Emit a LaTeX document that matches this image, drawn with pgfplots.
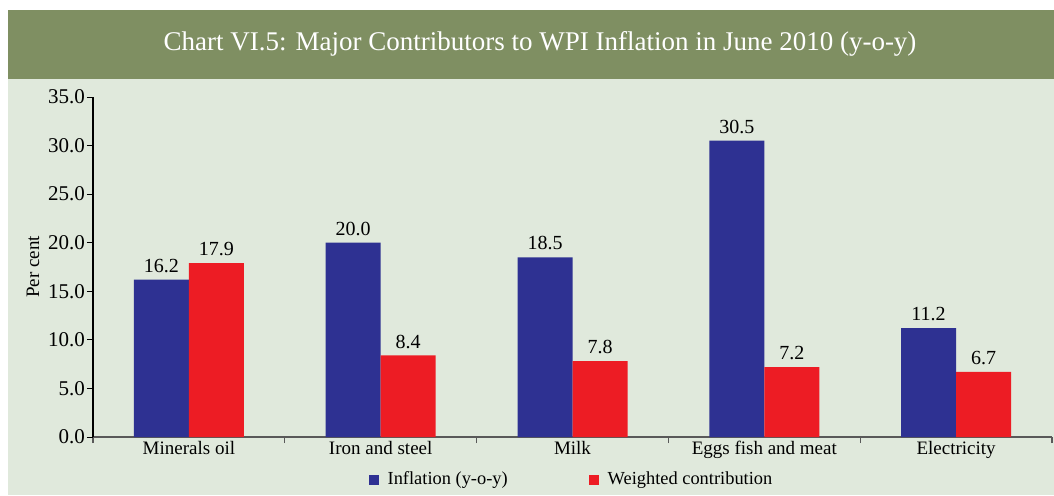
\documentclass[border=0pt]{standalone}
\usepackage{fontspec}
\setmainfont{Liberation Serif}
\usepackage{pgfplots}
\pgfplotsset{compat=1.18}
\definecolor{hdr}{HTML}{7F8F62}
\definecolor{bg}{HTML}{E0E9DC}
\definecolor{barblue}{HTML}{2E3192}
\definecolor{barred}{HTML}{ED1C24}

\begin{document}
\begin{tikzpicture}[font=\fontsize{10}{12}\selectfont]
% page and bands (1 px of the reference = 0.5pt)
\fill[white] (0pt,0pt) rectangle (527pt,-247.5pt);
\fill[hdr] (4pt,-5pt) rectangle (527pt,-39.5pt);
\fill[bg] (4pt,-39.5pt) rectangle (527pt,-247.5pt);
\node[white, font=\fontsize{13.5}{15}\selectfont] at (270pt,-22pt)
    {Chart VI.5: Major Contributors to WPI Inflation in June 2010 (y-o-y)};

\begin{axis}[
    at={(46.5pt,-218.5pt)}, anchor=south west,
    scale only axis,
    width=479.5pt, height=170pt,
    ybar, bar width=27.5pt,
    xmin=-0.5, xmax=4.5,
    ymin=0, ymax=35,
    ytick={0,5,...,35},
    yticklabel style={font=\fontsize{10.5}{12}\selectfont, xshift=2.5pt,
        /pgf/number format/.cd, fixed, fixed zerofill, precision=1},
    /pgf/number format/assume math mode=true,
    xtick={-0.5,0.5,1.5,2.5,3.5,4.5},
    x tick label as interval,
    xticklabels={Minerals oil, Iron and steel, Milk, Eggs fish and meat, Electricity},
    xticklabel style={font=\fontsize{9.5}{11}\selectfont, yshift=5pt,
        text height=1.6ex, text depth=0.4ex},
    tick align=outside,
    major tick length=3pt,
    x tick style={gray!70!black, line width=0.6pt},
    y tick style={black, line width=0.5pt},
    axis x line*=bottom, axis y line*=left,
    x axis line style={gray!70!black, line width=1pt},
    y axis line style={black, line width=0.6pt},
    ylabel={Per cent},
    ylabel style={font=\fontsize{9.5}{11}\selectfont, at={(axis description cs:-0.0626,0.5)}, anchor=center},
    nodes near coords,
    nodes near coords style={/pgf/number format/.cd, fixed, fixed zerofill, precision=1, /pgf/number format/assume math mode=true},
    legend style={at={(axis description cs:0.5026,-0.126)}, anchor=center,
        draw=none, fill=none, legend columns=2,
        font=\fontsize{9.2}{11}\selectfont,
        /tikz/every even column/.append style={column sep=36pt},
        nodes={inner xsep=4.5pt}},
    legend image code/.code={\fill[#1] (0pt,-2.5pt) rectangle (5pt,2.5pt);},
]
\addplot[draw=none, fill=barblue, bar shift=-13.75pt] coordinates {
    (0,16.2) (1,20.0) (2,18.5) (3,30.5) (4,11.2)
};
\addplot[draw=none, fill=barred, bar shift=13.75pt] coordinates {
    (0,17.9) (1,8.4) (2,7.8) (3,7.2) (4,6.7)
};
\legend{Inflation (y-o-y), Weighted contribution}
\end{axis}
\end{tikzpicture}
\end{document}
